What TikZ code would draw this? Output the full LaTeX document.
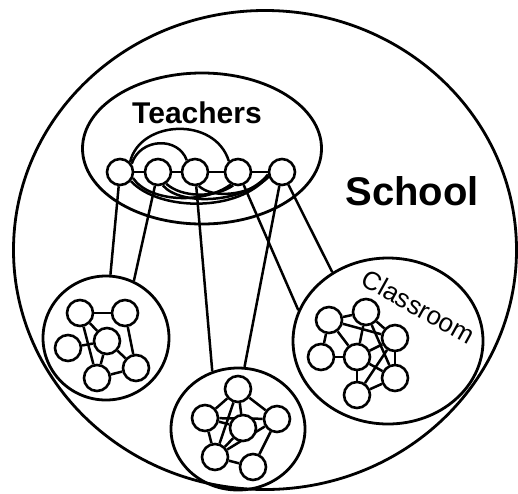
\documentclass[tikz,border=0pt]{standalone}
\usepackage{fontspec}
\setmainfont{Liberation Sans}
\usetikzlibrary{shapes.geometric,backgrounds}
\begin{document}
\begin{tikzpicture}[x=1pt,y=-1pt,
  pers/.style={circle,draw,fill=white,line width=2.6pt,minimum size=26pt,inner sep=0pt},
  grp/.style={ellipse,draw,line width=2.8pt,inner sep=0pt},
  lnk/.style={line width=2.5pt},
  lbl/.style={inner sep=0pt,anchor=base}
]
\useasboundingbox (0,0) rectangle (518,493);
% groups
\node[grp,minimum width=503pt,minimum height=479pt] (school) at (265,250) {};
\node[grp,minimum width=239pt,minimum height=151pt] (teach) at (202,148.5) {};
\node[grp,minimum width=126pt,minimum height=124pt] (cl1) at (106,338) {};
\node[grp,minimum width=134pt,minimum height=122pt] (cl2) at (238,429) {};
\node[grp,minimum width=190pt,minimum height=166pt] (cl3) at (388,341) {};
% labels
\node[lbl,font=\bfseries\fontsize{30}{32}\selectfont] (tlab) at (197,123) {Teachers};
\node[lbl,font=\bfseries\fontsize{40}{42}\selectfont] (slab) at (412,205) {School};
\node[lbl,font=\fontsize{26}{28}\selectfont,rotate=-29] (clab) at (414,315) {Classroom};
% teachers
\node[pers] (t1) at (120,172) {};
\node[pers] (t2) at (158,172) {};
\node[pers] (t3) at (195,172) {};
\node[pers] (t4) at (238,172) {};
\node[pers] (t5) at (282,172) {};
% classroom 1
\node[pers] (a1) at (80,313) {};
\node[pers] (b1) at (125,313) {};
\node[pers] (c1) at (107,341) {};
\node[pers] (d1) at (68,348) {};
\node[pers] (e1) at (97,378) {};
\node[pers] (f1) at (136,368) {};
% classroom 2
\node[pers] (a2) at (238,389) {};
\node[pers] (b2) at (205,418) {};
\node[pers] (c2) at (277,419) {};
\node[pers] (d2) at (243,428) {};
\node[pers] (e2) at (215,457) {};
\node[pers] (f2) at (253,467) {};
% classroom 3
\node[pers] (a3) at (329,320) {};
\node[pers] (b3) at (366,312) {};
\node[pers] (c3) at (395,338) {};
\node[pers] (d3) at (321,357) {};
\node[pers] (e3) at (357,357) {};
\node[pers] (f3) at (395,378) {};
\node[pers] (g3) at (357,395) {};
\begin{scope}[on background layer]
% teacher links
\draw[lnk] (t1) -- (t2);
\draw[lnk] (t2) -- (t3);
\draw[lnk] (t3) -- (t4);
\draw[lnk] (t4) -- (t5);
\draw[lnk] (t1.45) .. controls (140,120) and (215,116) .. (t4.130);
\draw[lnk] (t1.35) .. controls (140,138) and (178,136) .. (t3.125);
\draw[lnk] (t1.-40) .. controls (160,212) and (240,212) .. (t5.195);
\draw[lnk] (t1.-25) .. controls (150,203) and (205,204) .. (t4.240);
\draw[lnk] (t2.-70) .. controls (180,206) and (245,204) .. (t5.190);
\draw[lnk] (t2.-55) .. controls (182,198) and (215,198) .. (t4.250);
\draw[lnk] (t3.-75) .. controls (212,199) and (250,196) .. (t5.200);
% teacher to classroom
\draw[lnk] (t1) -- (cl1.86);
\draw[lnk] (t2) -- (cl1.64);
\draw[lnk] (t3) -- (cl2.114);
\draw[lnk] (t5) -- (cl2.84);
\draw[lnk] (t4) -- (cl3.161);
\draw[lnk] (t5) -- (cl3.129);
% classroom 1 links
\draw[lnk] (a1) -- (b1);
\draw[lnk] (a1) -- (e1);
\draw[lnk] (a1) -- (c1);
\draw[lnk] (b1) -- (f1);
\draw[lnk] (c1) -- (d1);
\draw[lnk] (c1) -- (f1);
\draw[lnk] (e1) -- (f1);
\draw[lnk] (c1) -- (e1);
% classroom 2 links
\draw[lnk] (a2) -- (b2);
\draw[lnk] (a2) -- (c2);
\draw[lnk] (b2) -- (c2);
\draw[lnk] (a2) -- (e2);
\draw[lnk] (b2) -- (e2);
\draw[lnk] (c2) -- (e2);
\draw[lnk] (c2) -- (f2);
\draw[lnk] (e2) -- (f2);
\draw[lnk] (d2) -- (e2);
\draw[lnk] (b2) -- (d2);
\draw[lnk] (a2) -- (d2);
% classroom 3 links
\draw[lnk] (a3) -- (b3);
\draw[lnk] (b3) -- (c3);
\draw[lnk] (a3) -- (d3);
\draw[lnk] (a3) -- (e3);
\draw[lnk] (a3) -- (c3);
\draw[lnk] (b3) -- (e3);
\draw[lnk] (b3) -- (f3);
\draw[lnk] (d3) -- (e3);
\draw[lnk] (e3) -- (g3);
\draw[lnk] (e3) -- (c3);
\draw[lnk] (c3) -- (f3);
\draw[lnk] (e3) -- (f3);
\draw[lnk] (g3) -- (f3);
\draw[lnk] (g3) -- (c3);
\end{scope}
\end{tikzpicture}
\end{document}
